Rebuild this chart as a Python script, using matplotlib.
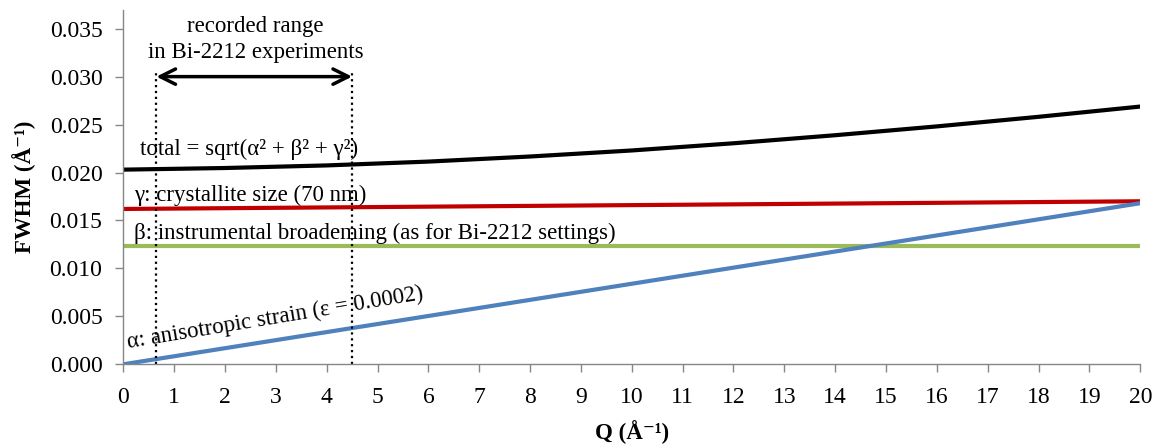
import matplotlib
matplotlib.use("Agg")
import matplotlib.pyplot as plt

# values
q = [0, 2, 4, 6, 8, 10, 12, 14, 16, 18, 20]
alpha = [0.0, 0.00168, 0.00336, 0.00504, 0.00672, 0.0084, 0.01008, 0.01176, 0.01344, 0.01512, 0.0168]
beta = [0.0123] * 11
gamma = [0.0162, 0.01628, 0.01636, 0.01644, 0.01652, 0.0166, 0.01668, 0.01676, 0.01684, 0.01692, 0.0170]
total = [0.0203, 0.02047, 0.02074, 0.02114, 0.02167, 0.0223, 0.02305, 0.02389, 0.02481, 0.02581, 0.02688]

range_lo, range_hi = 0.65, 4.5
x_ticks = list(range(0, 21))
y_ticks = [0.000, 0.005, 0.010, 0.015, 0.020, 0.025, 0.030, 0.035]

plt.rcParams['font.family'] = ['Liberation Serif', 'DejaVu Serif']
fs = 16.5      # annotation text
fs_tick = 17

fig = plt.figure(figsize=(11.6, 4.44), dpi=100)
ax = fig.add_axes([0.1063, 0.1795, 0.8767, 0.7991])

ax.plot(q, beta, color='#9BBB59', lw=3, solid_capstyle='butt')
ax.plot(q, gamma, color='#C00000', lw=3, solid_capstyle='butt')
ax.plot(q, alpha, color='#4F81BD', lw=3, solid_capstyle='butt')
ax.plot(q, total, color='black', lw=3, solid_capstyle='butt')

# recorded range markers
ax.plot([range_lo, range_lo], [0, 0.0306], color='black', ls=':', lw=1.6)
ax.plot([range_hi, range_hi], [0, 0.0306], color='black', ls=':', lw=1.6)
ax.annotate('', xy=(range_hi, 0.030), xytext=(range_lo, 0.030),
            arrowprops=dict(arrowstyle='<->,head_length=1.1,head_width=0.55', lw=2.5, color='black',
                            shrinkA=0, shrinkB=0))
ax.text(2.6, 0.0339, 'recorded range\nin Bi-2212 experiments', ha='center', va='center',
        fontsize=fs, linespacing=1.3)

ax.text(0.33, 0.0224, 'total = sqrt(α² + β² + γ²)', ha='left', va='center', fontsize=fs)
ax.text(0.22, 0.0176, 'γ: crystallite size (70 nm)', ha='left', va='center', fontsize=fs)
ax.text(0.22, 0.0136, 'β: instrumental broademing (as for Bi-2212 settings)', ha='left', va='center', fontsize=fs)
ax.text(0.12, 0.0012, 'α: anisotropic strain (ε = 0.0002)', ha='left', va='bottom', fontsize=fs,
        rotation=9.4, rotation_mode='anchor')

ax.set_xlim(0, 20)
ax.set_ylim(0, 0.037)
ax.set_xticks(x_ticks)
ax.set_yticks(y_ticks)
ax.set_yticklabels([f'{v:.3f}' for v in y_ticks])
ax.tick_params(axis='both', direction='out', length=6, width=1, color='#868686', labelsize=fs_tick)
ax.tick_params(axis='x', pad=10)
ax.tick_params(axis='y', pad=9)
for side in ['top', 'right']:
    ax.spines[side].set_visible(False)
for side in ['left', 'bottom']:
    ax.spines[side].set_color('#868686')
    ax.spines[side].set_linewidth(1)

ax.set_xlabel('Q (Å⁻¹)', fontsize=fs, fontweight='bold', labelpad=9)
ax.set_ylabel('FWHM (Å⁻¹)', fontsize=fs, fontweight='bold', labelpad=10)

fig.savefig('out.png', dpi=100)
